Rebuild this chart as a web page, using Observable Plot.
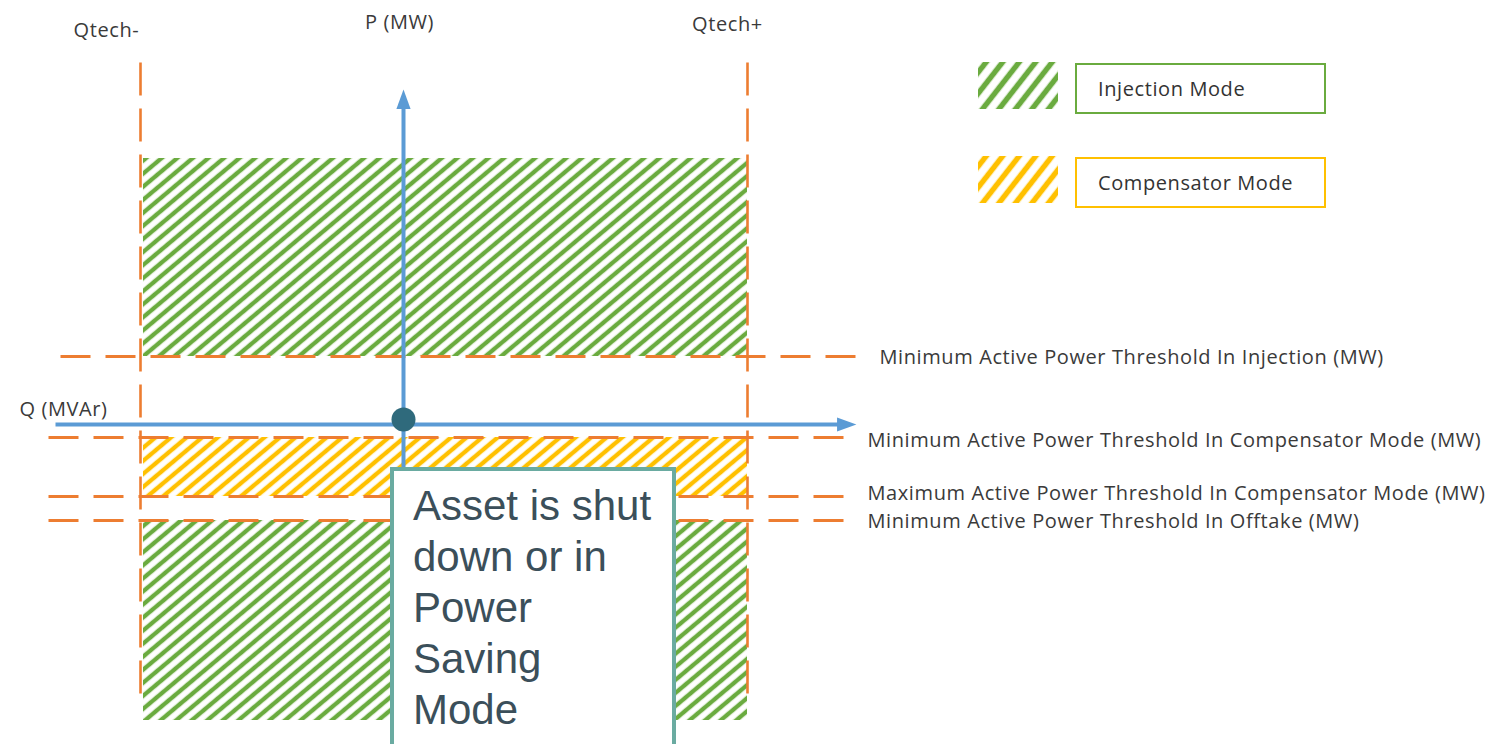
<!DOCTYPE html>
<html><head><meta charset="utf-8">
<script src="https://cdn.jsdelivr.net/npm/d3@7"></script>
<script src="https://cdn.jsdelivr.net/npm/@observablehq/plot@0.6"></script>
<style>
body{margin:0;background:#fff;}
#wrap{position:relative;width:1486px;height:744px;overflow:hidden;font-family:"Open Sans",sans-serif;background:#fff;}
#wrap svg.plot{position:absolute;left:0;top:0;}
#wrap svg.plot text{letter-spacing:0.6px;}
.legend-box{position:absolute;left:1075px;width:251px;box-sizing:border-box;border:2px solid;font-size:20px;letter-spacing:0.6px;color:#333;padding-left:21px;display:flex;align-items:center;background:#fff;}
.swatch{position:absolute;left:978px;}
#note{position:absolute;left:390px;top:467px;width:286px;height:320px;box-sizing:border-box;border:4px solid #6aaba1;background:#fff;font-family:"Liberation Sans",Arial,sans-serif;font-size:42px;line-height:51px;color:#3b4f5a;padding:9px 0 0 19px;white-space:nowrap;}
</style></head>
<body><div id="wrap"></div>
<script>
// ---- data (P in MW-like units, Q in MVAr-like units; schematic diagram) ----
const qLimits = [{label: "Qtech-", q: -2.63}, {label: "Qtech+", q: 3.44}];
const qLimitSpan = [-2.76, 3.62];          // vertical extent of the Qtech lines (P)
const thresholds = [
  {label: "Minimum Active Power Threshold In Injection (MW)", p: 0.68, labelP: 0.67, qFrom: -3.43, qTo: 4.54},
  {label: "Minimum Active Power Threshold In Compensator Mode (MW)", p: -0.13, labelP: -0.16, qFrom: -3.55, qTo: 4.42},
  {label: "Maximum Active Power Threshold In Compensator Mode (MW)", p: -0.72, labelP: -0.695, qFrom: -3.55, qTo: 4.42},
  {label: "Minimum Active Power Threshold In Offtake (MW)", p: -0.96, labelP: -0.975, qFrom: -3.55, qTo: 4.42}
];
const zones = [
  {mode: "Injection", pLow: 0.68, pHigh: 2.66},
  {mode: "Compensator", pLow: -0.72, pHigh: -0.13},
  {mode: "Injection", pLow: -2.96, pHigh: -0.96}
];
const axisQ = {label: "Q (MVAr)", from: -3.48, to: 4.40};
const axisP = {label: "P (MW)", from: -0.6, to: 3.22};
const origin = [{q: 0, p: 0.05}];
const axisLabels = [
  {text: "Qtech-", q: -2.97, p: 3.94},
  {text: "P (MW)", q: -0.04, p: 4.02},
  {text: "Qtech+", q: 3.24, p: 4.00},
  {text: "Q (MVAr)", q: -3.40, p: 0.15}
];
const legendItems = [
  {mode: "Injection", label: "Injection Mode"},
  {mode: "Compensator", label: "Compensator Mode"}
];
const noteLines = ["Asset is shut", "down or in", "Power", "Saving", "Mode"];

// ---- styles ----
const COLORS = {Injection: "#6aab3f", Compensator: "#ffc000"};
const ORANGE = "#ed7d31", BLUE = "#5b9bd5", DOT = "#2f6a7c", TEXT = "#3a3a3a";

const hatchDefs = () => {
  const defs = d3.create("svg:defs");
  for (const [mode, color] of Object.entries(COLORS)) {
    defs.append("pattern").attr("id", "hatch-" + mode).attr("patternUnits", "userSpaceOnUse")
      .attr("width", 10).attr("height", 10).attr("patternTransform", "rotate(-40)")
      .append("line").attr("x1", -1).attr("x2", 11).attr("y1", 5).attr("y2", 5)
      .attr("stroke", color).attr("stroke-width", 4.4);
  }
  return defs.node();
};

const arrowUp = {draw(ctx, size) { const h = Math.sqrt(size) * 1.3; ctx.moveTo(0, -h); ctx.lineTo(h * 0.55, h * 0.5); ctx.lineTo(-h * 0.55, h * 0.5); ctx.closePath(); }};
const arrowRight = {draw(ctx, size) { const h = Math.sqrt(size) * 1.3; ctx.moveTo(h, 0); ctx.lineTo(-h * 0.5, h * 0.55); ctx.lineTo(-h * 0.5, -h * 0.55); ctx.closePath(); }};

const qMin = qLimits[0].q, qMax = qLimits[1].q;

const chart = Plot.plot({
  width: 1486, height: 744,
  marginTop: 0, marginRight: 0, marginBottom: 0, marginLeft: 0,
  x: {domain: [-4.03, 10.83], axis: null},
  y: {domain: [-3.20, 4.24], axis: null},
  style: {background: "transparent", overflow: "visible"},
  marks: [
    hatchDefs,
    Plot.rect(zones.filter(d => d.mode === "Injection"), {x1: () => qMin + 0.03, x2: () => qMax, y1: "pLow", y2: "pHigh", fill: "url(#hatch-Injection)"}),
    Plot.rect(zones.filter(d => d.mode === "Compensator"), {x1: () => qMin + 0.03, x2: () => qMax, y1: "pLow", y2: "pHigh", fill: "url(#hatch-Compensator)"}),
    Plot.link(thresholds, {x1: "qFrom", x2: "qTo", y1: "p", y2: "p", stroke: ORANGE, strokeWidth: 3, strokeDasharray: "30,15"}),
    Plot.link(qLimits, {x1: "q", x2: "q", y1: () => qLimitSpan[1], y2: () => qLimitSpan[0], stroke: ORANGE, strokeWidth: 2.6, strokeDasharray: "33,13"}),
    Plot.link([axisQ], {x1: "from", x2: "to", y1: () => 0, y2: () => 0, stroke: BLUE, strokeWidth: 4}),
    Plot.link([axisP], {x1: () => 0, x2: () => 0, y1: "from", y2: "to", stroke: BLUE, strokeWidth: 4}),
    Plot.dot([axisP], {x: () => 0, y: "to", symbol: arrowUp, r: 5.6, fill: BLUE, stroke: "none"}),
    Plot.dot([axisQ], {x: "to", y: () => 0, symbol: arrowRight, r: 5.6, fill: BLUE, stroke: "none"}),
    Plot.dot(origin, {x: "q", y: "p", r: 12, fill: DOT, stroke: "none"}),
    Plot.text(thresholds, {x: "qTo", y: "labelP", text: "label", dx: 22, textAnchor: "start", fontSize: 20, lineHeight: 1, fill: TEXT, fontFamily: "Open Sans"}),
    Plot.text(axisLabels, {x: "q", y: "p", text: "text", fontSize: 20, fill: TEXT, fontFamily: "Open Sans"})
  ]
});
chart.classList.add("plot");
const wrap = document.getElementById("wrap");
wrap.appendChild(chart);

// legend (HTML, placed to the right of the diagram)
const legendTops = [62, 156];
legendItems.forEach((item, i) => {
  const color = COLORS[item.mode];
  const sw = d3.select(wrap).append("svg").attr("class", "swatch").attr("width", 80).attr("height", 47)
    .style("top", legendTops[i] + "px");
  sw.append("defs").append("pattern").attr("id", "lg-" + item.mode).attr("patternUnits", "userSpaceOnUse")
    .attr("width", 13).attr("height", 13).attr("patternTransform", "rotate(-52)")
    .append("line").attr("x1", -1).attr("x2", 14).attr("y1", 6.5).attr("y2", 6.5)
    .attr("stroke", color).attr("stroke-width", 5.5);
  sw.append("rect").attr("width", 80).attr("height", 47).attr("fill", `url(#lg-${item.mode})`);
  d3.select(wrap).append("div").attr("class", "legend-box")
    .style("top", (legendTops[i] + 1) + "px").style("height", "51px")
    .style("border-color", color).text(item.label);
});

// annotation box
d3.select(wrap).append("div").attr("id", "note").html(noteLines.join("<br>"));
</script>
</body></html>
